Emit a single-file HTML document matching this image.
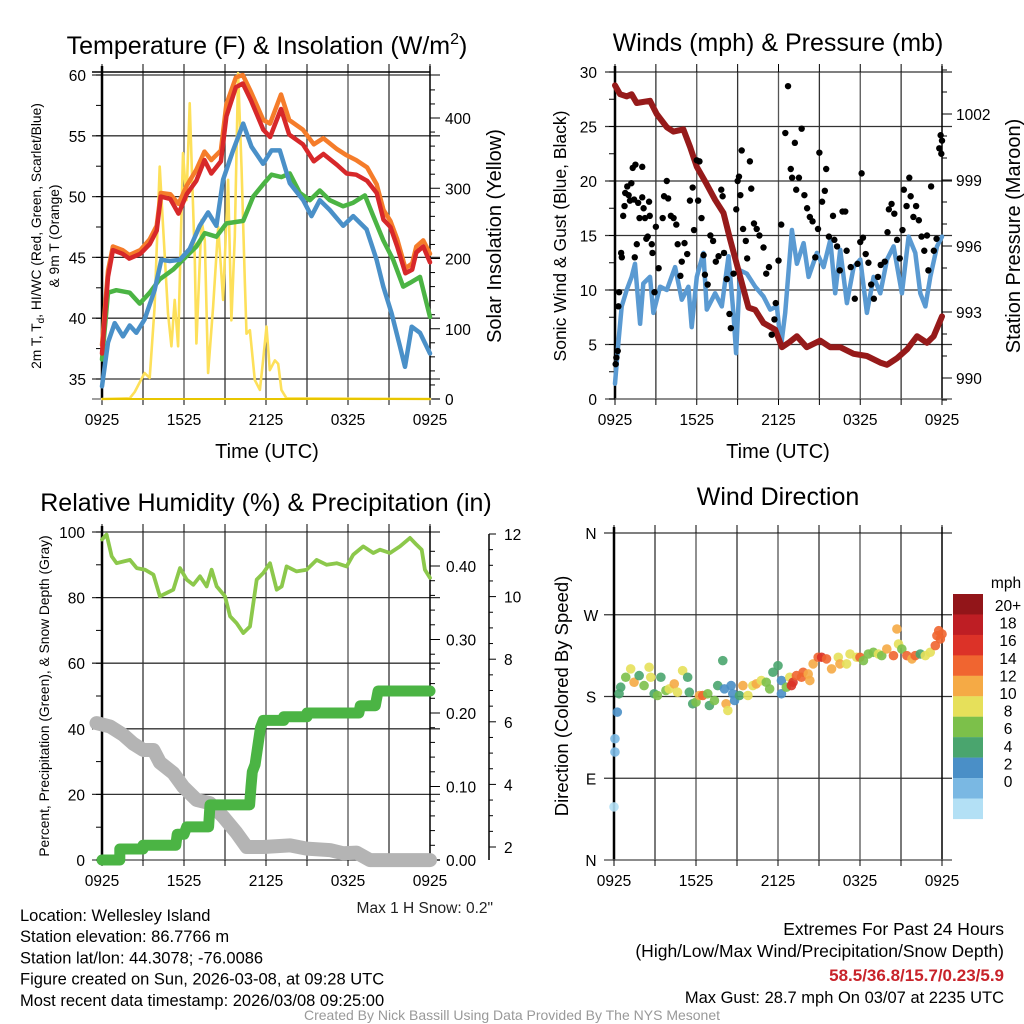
<!DOCTYPE html>
<html><head><meta charset="utf-8"><style>
body{margin:0;background:#fff;}
svg{display:block;font-family:"Liberation Sans",sans-serif;}
</style></head><body>
<svg id="chart" width="1024" height="1024" viewBox="0 0 1024 1024" xmlns="http://www.w3.org/2000/svg">
<rect width="1024" height="1024" fill="#fff"/>
<g id="g"></g>
</svg>
<script>
// ===== Panel 1 data: temperature & insolation =====
const redH=[0,0.44,0.8,1.5,2.0,2.8,3.5,4.0,4.3,5.0,5.6,6.2,6.9,7.5,8.0,8.7,9.1,9.8,10.3,10.9,11.8,12.3,13.1,13.7,14.7,15.5,16.2,17.2,17.9,18.6,19.4,20.1,20.6,21.1,21.6,22.2,22.7,23.0,23.5,24.0];
const redT=[37.1,43.4,45.6,45.3,44.9,45.3,46.1,47.2,50.0,49.8,48.6,50.2,51.3,53.0,51.9,52.9,56.6,59.0,59.3,57.9,55.5,54.9,57.2,55.1,54.3,52.9,53.5,52.6,51.9,51.8,51.3,50.3,48.1,47.5,45.9,43.7,44.0,45.4,45.9,44.6];
const orangeT=[37.8,43.9,45.9,45.6,45.2,45.6,46.5,47.6,50.3,50.2,49.4,50.9,52.2,53.7,53.0,53.8,57.6,59.8,60.0,58.6,56.3,56.0,58.4,56.3,55.5,54.3,54.8,53.9,53.4,53.0,52.4,51.0,48.9,48.0,46.5,44.1,44.5,45.9,46.4,45.3];
const blueH=[0,0.44,0.93,1.54,2.03,2.51,3.12,3.85,4.34,4.96,5.69,6.42,7.15,7.76,8.37,8.86,9.59,10.33,10.94,11.79,12.40,13.01,13.74,14.72,15.33,15.94,16.67,17.65,18.38,19.36,20.09,20.58,21.19,21.80,22.17,22.66,23.27,24.0];
const blueT=[34.4,38.0,39.6,38.5,39.4,38.8,39.9,42.3,44.8,44.7,44.8,45.7,47.6,48.7,47.6,51.4,53.8,56.0,54.1,52.7,53.8,53.8,51.1,49.7,48.4,49.7,48.9,47.6,48.4,47.3,44.8,42.6,40.4,37.7,36.0,39.3,38.8,37.1];
const greenH=[0,0.44,1.05,2.03,2.76,3.49,4.22,5.2,6.18,6.91,7.52,8.37,9.1,10.33,11.06,11.79,12.40,13.13,13.74,14.48,15.21,15.94,16.67,17.65,18.38,19.24,19.85,20.58,21.31,22.04,22.53,23.27,24.0];
const greenT=[36.6,42.1,42.3,42.1,41.2,42.1,43.2,44.0,45.1,45.9,47.0,46.7,47.8,48.0,50.0,51.0,51.8,51.6,51.9,50.3,49.7,50.5,49.7,49.2,49.5,50.1,48.4,46.4,44.8,42.6,42.9,43.4,40.1];
const solarH=[0,2.03,2.39,3.12,3.49,3.85,4.22,4.47,4.83,5.08,5.32,5.57,5.93,6.18,6.42,6.79,6.91,7.28,7.52,7.76,8.13,8.50,8.86,9.23,9.47,9.72,9.96,10.21,10.45,10.57,10.82,11.18,11.55,11.79,12.04,12.28,12.65,12.89,13.13,13.50,24.0];
const solarW=[0,1,10,37,30,131,331,245,122,75,141,75,350,283,421,198,79,255,226,37,131,245,141,312,112,231,464,331,169,93,98,27,13,55,103,41,55,50,13,1,0];

// ===== Panel 2 data: winds & pressure =====
const windH=[0,0.24,0.49,0.86,1.22,1.47,1.84,2.08,2.57,2.82,3.31,3.80,4.41,4.90,5.39,5.63,6.00,6.49,6.74,7.35,7.84,8.33,8.69,8.89,9.18,9.67,10.29,10.90,11.39,11.88,12.18,12.49,12.98,13.35,13.84,14.21,14.82,15.31,15.80,16.16,16.53,17.02,17.51,18.00,18.49,18.98,19.47,19.96,20.45,21.06,21.55,22.04,22.41,22.78,23.14,23.63,24.0];
const windS=[1.4,5.1,8.5,10.0,11.2,12.4,6.9,10.6,11.2,7.9,10.3,10.0,12.1,9.1,10.3,6.6,11.2,13.4,8.2,9.7,8.5,13.1,7.9,4.2,11.8,11.5,10.3,9.4,8.2,8.5,4.8,7.9,15.5,12.4,14.3,11.2,13.4,12.1,14.6,9.7,13.7,8.8,12.1,12.8,7.9,11.2,9.7,12.8,14.0,9.7,14.9,13.4,9.7,8.5,11.2,14.0,14.9];
const presH=[0,0.37,0.86,1.22,1.59,2.57,3.06,3.80,4.29,5.02,5.51,6.00,6.74,7.35,7.96,8.45,9.06,9.80,10.29,10.90,11.76,12.25,12.74,13.35,14.08,15.06,15.80,16.53,17.51,18.49,19.47,19.96,20.70,21.43,22.17,22.90,23.39,24.0];
const presP=[1003.3,1002.9,1002.8,1002.9,1002.5,1002.6,1002.0,1001.4,1001.2,1001.3,1000.5,999.6,998.8,998.1,997.5,996.3,994.9,993.2,993.1,992.5,992.2,991.4,991.6,991.9,991.4,991.7,991.4,991.4,991.1,991.0,990.7,990.6,990.9,991.3,991.9,991.6,991.9,992.8];
const gustH=[0.05,0.1,0.2,0.25,0.3,0.45,0.5,0.6,0.7,0.75,0.9,1.0,1.1,1.2,1.4,1.3,1.5,1.45,1.6,1.7,1.8,2.0,2.0,2.1,2.2,2.3,2.4,2.5,2.55,2.7,2.75,2.9,3.0,3.2,3.5,3.6,3.8,3.9,4.1,4.3,4.5,4.6,4.8,4.9,5.1,5.3,5.5,5.7,5.8,6.0,6.2,6.1,6.35,6.5,6.6,6.8,7.0,7.2,7.4,7.6,7.8,7.9,8.0,8.2,8.4,8.5,8.7,8.9,9.0,9.1,9.2,9.3,9.4,9.6,9.7,9.9,10.0,10.2,10.4,10.6,10.9,11.1,11.3,11.5,11.7,11.8,12.0,12.2,12.5,12.7,12.9,13.0,13.2,13.3,13.5,13.7,13.9,14.1,14.3,14.5,14.7,14.9,15.0,15.2,15.4,15.5,15.7,16.0,16.1,16.3,16.5,16.7,16.9,17.0,17.3,17.6,17.8,18.0,18.1,18.2,18.4,18.6,18.8,19.0,19.3,19.5,19.8,20.0,20.1,20.3,20.5,20.7,20.9,21.1,21.2,21.4,21.6,21.7,21.9,22.1,22.3,22.5,22.7,22.9,23.0,23.2,23.4,23.6,23.8,23.9,24.0,23.95];
const gustS=[3.2,3.8,4.4,8.5,9.8,13.4,13.0,16.8,17.7,18.9,19.5,18.7,18.2,19.8,18.3,21.2,21.5,13.0,14.2,18.0,16.6,21.3,18.5,17.5,16.6,14.7,14.9,18.1,16.8,14.2,13.4,9.8,15.8,12.0,16.6,18.6,20.0,18.4,16.8,16.6,16.0,14.2,11.3,12.6,14.3,13.3,18.2,19.4,15.5,21.9,21.8,18.2,16.6,13.2,11.4,10.5,15.0,14.5,12.6,13.1,19.2,18.6,13.4,11.0,7.8,6.5,11.5,17.4,20.0,20.4,18.7,22.8,15.6,14.5,12.9,21.8,19.3,16.1,15.6,15.0,13.9,11.5,12.1,5.9,7.3,8.8,12.7,16.0,24.4,28.7,21.1,20.3,23.5,19.2,20.3,24.8,18.7,17.5,16.7,16.3,13.0,15.6,22.6,18.1,19.1,21.1,14.9,16.8,14.6,14.0,11.8,17.2,17.2,13.6,12.1,9.2,12.4,14.4,20.7,14.8,13.3,12.5,10.5,9.2,11.2,12.3,12.6,15.3,17.4,17.9,17.0,14.6,12.9,15.5,19.2,17.7,20.3,18.6,16.7,17.7,16.4,14.9,13.6,15.0,11.8,19.5,13.6,14.7,23.0,24.2,23.7,22.5];

// ===== Panel 3 data: RH, precipitation, snow depth =====
const rhH=[0,0.34,0.71,1.07,1.56,2.05,2.54,3.15,3.76,4.24,4.73,5.22,5.71,6.20,6.68,7.17,7.66,8.02,8.39,9.00,9.37,9.85,10.34,10.83,11.32,11.80,12.29,12.78,13.15,13.51,14.24,14.98,15.71,16.44,17.17,17.90,18.39,19.12,19.85,20.34,21.07,21.80,22.54,23.02,23.39,23.63,24.0];
const rhV=[97.7,99.2,92.6,90.5,91.0,91.5,89.0,88.5,87.0,80.4,81.4,82.4,89.0,85.5,83.9,86.5,83.4,88.5,83.4,80.4,74.3,72.2,69.2,71.2,85.5,87.5,90.5,82.4,83.4,89.5,88.0,88.5,91.5,90.0,90.5,89.5,93.1,95.6,93.6,94.6,93.6,95.6,98.2,96.1,94.6,88.5,86.0];
const precipH=[0,1.3,1.3,3.0,3.0,5.4,5.5,6.0,6.2,7.8,7.9,10.8,10.9,11.0,11.2,11.4,11.6,11.8,13.3,13.3,15.0,15.0,18.8,18.9,20.0,20.2,24.0];
const precipV=[0,0,0.015,0.015,0.02,0.02,0.035,0.035,0.045,0.045,0.075,0.075,0.10,0.12,0.13,0.155,0.18,0.19,0.19,0.195,0.195,0.20,0.20,0.21,0.21,0.23,0.23];
const snowH=[-0.4,0.59,1.56,2.29,3.02,3.76,4.24,5.22,5.95,6.93,7.90,8.88,9.85,10.59,11.80,13.76,14.98,16.68,17.66,18.63,19.61,24.0];
const snowV=[5.96,5.85,5.58,5.3,5.1,5.1,4.7,4.36,3.92,3.5,3.4,2.96,2.45,2.0,2.0,2.05,1.95,1.9,1.8,1.82,1.58,1.58];

// ===== Panel 4 data: wind direction colored by speed =====
const dirH=[0,0.07,0.07,0.24,0.37,0.49,0.86,1.22,1.47,1.84,2.2,2.57,2.69,2.94,3.18,3.43,3.8,4.04,4.41,4.65,5.02,5.39,5.51,5.76,6.0,6.25,6.49,6.86,6.98,7.35,7.59,7.96,8.08,8.2,8.33,8.57,8.69,8.82,9.18,9.43,9.8,10.16,10.41,10.78,11.14,11.39,11.63,12.0,12.25,12.25,12.61,12.86,13.1,12.98,13.35,13.72,13.84,14.21,14.33,14.57,14.94,15.19,15.55,15.92,16.41,16.53,17.02,17.27,17.76,18.0,18.25,18.61,18.98,19.35,19.59,19.96,20.45,20.7,20.82,21.06,21.43,21.8,22.04,22.41,22.78,23.14,23.51,23.63,23.76,24.0,23.88];
const dirD=[58.5,118.9,133.5,162.8,183,190.2,201.2,210.4,195.7,203,192,212.2,201.2,183,181.1,201.2,186.6,188.4,193.9,184.7,208.5,201.2,184.7,172,173.8,181.1,181.1,183,170.1,175.6,192,219.5,188.4,172,164.6,192,183,175.6,181.1,192,181.1,192,193.9,197.6,195.7,188.4,206.7,214,197.6,183,190.2,201.2,195.7,192,203,201.2,206.7,204.8,197.6,215.9,223.2,223.2,221.4,210.4,223.2,215.9,215.9,226.8,223.2,223.2,219.5,226.8,228.7,226.8,225,232.3,225,254.3,237.8,232.3,225,221.4,225,226.8,225,228.7,236,247,252.4,248.8,243.3];
const dirS=[1,2,2,4,6,7,9,10,12,7,9,10,10,7,8,7,9,10,12,10,10,7,6,6,9,12,14,9,7,8,7,6,5,12,10,5,4,4,7,12,10,11,12,10,8,8,7,6,4,4,8,10,16,17,15,14,14,12,12,12,14,16,15,12,10,12,10,10,10,15,8,8,9,10,9,12,14,12,10,9,14,12,15,7,10,10,14,14,15,14,15];
const cbLabels=["20+","18","16","14","12","10","8","6","4","2","0"];

// ===== drawing =====
const NS="http://www.w3.org/2000/svg";
const G=document.getElementById('g');
const TK=15.5, TT=25, AX=20;
function mk(tag,attrs,parent,txt){const e=document.createElementNS(NS,tag);for(const k in attrs)e.setAttribute(k,attrs[k]);if(txt!==undefined)e.textContent=txt;(parent||G).appendChild(e);return e;}
function grp(name){const e=mk('g',{});


return e;}
function text(p,x,y,s,size,anchor,name,extra){const t=mk('text',Object.assign({x:x,y:y,'font-size':size,'text-anchor':anchor||'start',fill:'#000'},extra||{}),p,s);


return t;}
function line(p,x1,y1,x2,y2,c,w){return mk('line',{x1:x1,y1:y1,x2:x2,y2:y2,stroke:c||'#000','stroke-width':w||1},p);}
function poly(p,xs,ys,c,w,name){const d=xs.map((x,i)=>(i?'L':'M')+x.toFixed(1)+','+ys[i].toFixed(1)).join('');const e=mk('path',{d:d,fill:'none',stroke:c,'stroke-width':w,'stroke-linejoin':'round','stroke-linecap':'round'},p);


return e;}
function lin(d0,d1,r0,r1){return v=>r0+(v-d0)/(d1-d0)*(r1-r0);}
const xLabs=["0925","1525","2125","0325","0925"];
function frame(p,L,R,T,B,hTicksY,xs){
  for(let k=1;k<8;k++){const x=L+(R-L)*k/8;line(p,x,T,x,B,k%2?'#333':'#555',1.3);}
  hTicksY.forEach(y=>line(p,L-10,y,R+10,y,'#333',1.3));
  line(p,L,T-6,L,B,'#000',2.5);line(p,R,T-6,R,B,'#000',1.5);
  line(p,L-10,B,R+10,B,'#666',1.3);
  for(let k=0;k<=8;k++){const x=L+(R-L)*k/8;line(p,x,B,x,B+6,'#000',1);line(p,x,T-8,x,T,'#000',1);}
  xLabs.forEach((s,i)=>{text(p,L+(R-L)*i/4,xs+1,s,TK,'middle','x-tick-label');});
}
// ---- Panel 1
{const p=grp('temperature-panel');
 const L=102,R=430,T=72,B=399;
 const y=lin(35,60,379,75), yw=lin(0,400,399,118), x=lin(0,24,L,R);
 frame(p,L,R,T,B,[35,40,45,50,55,60].map(y),424);
 line(p,L-10,72,R,72,'#000',1.5);
 [35,40,45,50,55,60].forEach(v=>text(p,86,y(v)+6,String(v),TK,'end','left-tick-label'));
 for(let v=35;v<=60;v+=2.5)line(p,L-6,y(v),L,y(v),'#000',1);
 for(let v=0;v<=440;v+=20){line(p,R,yw(v),R+(v%100?5:10),yw(v),'#000',1);}
 [0,100,200,300,400].forEach(v=>text(p,445,yw(v)+6,String(v),TK,'start','right-tick-label'));
 poly(p,solarH.map(x),solarW.map(yw),'#fde05a',2.6,'solar-insolation-line');
 poly(p,greenH.map(x),greenT.map(y),'#4bb444',4.5,'heat-index-line');
 poly(p,redH.map(x),orangeT.map(y),'#f57c2a',4.5,'9m-temperature-line');
 poly(p,redH.map(x),redT.map(y),'#d7282a',4.5,'2m-temperature-line');
 poly(p,blueH.map(x),blueT.map(y),'#4a90c8',4.5,'windchill-line');
 line(p,L,B,R,B,'#e8c600',2);
 text(p,267,54,'Temperature (F) & Insolation (W/m',TT,'middle','panel-title').innerHTML='Temperature (F) &amp; Insolation (W/m<tspan font-size="16" dy="-10">2</tspan><tspan dy="10">)</tspan>';
 text(p,267,458,'Time (UTC)',AX,'middle','x-axis-title');
 text(p,0,0,'2m T, T',13.8,'middle','left-axis-title',{transform:'translate(41,236) rotate(-90)'}).innerHTML='2m T, T<tspan font-size="10" dy="3">d</tspan><tspan dy="-3">, HI/WC (Red, Green, Scarlet/Blue)</tspan>';
 text(p,0,0,'& 9m T (Orange)',13.8,'middle','left-axis-title-line2',{transform:'translate(59,236) rotate(-90)'});
 text(p,0,0,'Solar Insolation (Yellow)',AX,'middle','right-axis-title',{transform:'translate(501,236) rotate(-90)'});
}
// ---- Panel 2
{const p=grp('winds-panel');
 const L=615,R=942,T=72,B=399;
 const y=lin(0,30,399,72), yp=lin(990,1002,378,114), x=lin(0,24,L,R);
 frame(p,L,R,T,B,[0,5,10,15,20,25,30].map(y),424);
 [0,5,10,15,20,25,30].forEach(v=>text(p,597,y(v)+6,String(v),TK,'end','left-tick-label'));
 for(let v=0;v<=30;v+=2.5)line(p,L-6,y(v),L,y(v),'#000',1);
 for(let v=989;v<=1004;v+=1)line(p,R,yp(v),R+(v%3===0?10:5),yp(v),'#000',1);
 [990,993,996,999,1002].forEach(v=>text(p,956,yp(v)+6,String(v),TK,'start','right-tick-label'));
 poly(p,windH.map(x),windS.map(y),'#5a9ad2',4.5,'sonic-wind-line');
 poly(p,presH.map(x),presP.map(yp),'#961a1a',6,'pressure-line');
 gustH.forEach((h,i)=>{const c=mk('circle',{cx:x(h),cy:y(gustS[i]),r:3.2,fill:'#000'},p);
 
 });
 text(p,778,51,'Winds (mph) & Pressure (mb)',TT,'middle','panel-title');
 text(p,778,458,'Time (UTC)',AX,'middle','x-axis-title');
 text(p,0,0,'Sonic Wind & Gust (Blue, Black)',17.5,'middle','left-axis-title',{transform:'translate(566,236) rotate(-90)'});
 text(p,0,0,'Station Pressure (Maroon)',AX,'middle','right-axis-title',{transform:'translate(1020,236) rotate(-90)'});
}
// ---- Panel 3
{const p=grp('humidity-panel');
 const L=102,R=430,T=532,B=860;
 const y=lin(0,100,860,532), yp=lin(0,0.4,860,566), ys=lin(2,12,847,534), x=lin(0,24,L,R);
 frame(p,L,R,T,B,[0,20,40,60,80,100].map(y),885);
 [0,20,40,60,80,100].forEach(v=>text(p,85,y(v)+6,String(v),TK,'end','left-tick-label'));
 for(let v=0;v<=100;v+=10)line(p,L-6,y(v),L,y(v),'#000',1);
 for(let v=0;v<=0.44;v+=0.02){const mj=Math.round(v*100)%10===0;line(p,R,yp(v),R+(mj?10:5),yp(v),'#000',1);}
 [0,0.1,0.2,0.3,0.4].forEach(v=>text(p,446,yp(v)+6,v.toFixed(2),TK,'start','precip-tick-label'));
 line(p,489,534,489,860,'#000',1.5);
 for(let v=2;v<=12;v+=0.5)line(p,489,ys(v),489+(v%2===0?7:4),ys(v),'#000',1);
 [2,4,6,8,10,12].forEach(v=>text(p,504,ys(v)+6,String(v),TK,'start','snow-tick-label'));
 poly(p,snowH.map(x),snowV.map(ys),'#b4b4b4',14,'snow-depth-line');
 poly(p,precipH.map(x),precipV.map(yp),'#4bb444',11,'precipitation-line');
 poly(p,rhH.map(x),rhV.map(y),'#8cc84b',3.8,'relative-humidity-line');
 text(p,266,511,'Relative Humidity (%) & Precipitation (in)',TT,'middle','panel-title');
 text(p,0,0,'Percent, Precipitation (Green), & Snow Depth (Gray)',13.8,'middle','left-axis-title',{transform:'translate(49,696) rotate(-90)'});
 text(p,493,913,'Max 1 H Snow: 0.2"',TK,'end','max-snow-note',{fill:'#222'});
}
// ---- Panel 4
{const p=grp('wind-direction-panel');
 const L=614,R=942,T=533,B=860;
 const y=lin(0,360,860,533), x=lin(0,24,L,R);
 frame(p,L,R,T,B,[0,90,180,270,360].map(y),885);
 [["N",0],["E",90],["S",180],["W",270],["N",360]].forEach(a=>text(p,591,y(a[1])+6,a[0],TK,'middle','direction-tick-label'));
 const cols=['#b3e0f5','#7ab8e3','#4a8fc7','#4aa56e','#7cc04a','#e6e05a','#f5aa45','#f06530','#dc3228','#be1e24','#921519'];
 dirH.forEach((h,i)=>{const k=Math.min(10,Math.floor(dirS[i]/2));const c=mk('circle',{cx:x(h),cy:y(dirD[i]),r:4.8,fill:cols[k],'fill-opacity':0.9},p);
 
 });
 text(p,778,505,'Wind Direction',TT,'middle','panel-title');
 text(p,0,0,'Direction (Colored By Speed)',18.5,'middle','left-axis-title',{transform:'translate(568,696) rotate(-90)'});
 const cb=grp('speed-colorbar');
 for(let k=0;k<11;k++){const r=mk('rect',{x:953,y:594+k*20.45,width:30,height:20.6,fill:cols[10-k]},cb);
 
 }
 cbLabels.forEach((s,k)=>{text(cb,1008,611+k*17.6,s,TK,'middle','colorbar-label');});
 text(cb,1006,588,'mph',TK,'middle','colorbar-title');
}
// ---- Footer text
{const p=grp('footer');
 ['Location: Wellesley Island','Station elevation: 86.7766 m','Station lat/lon: 44.3078; -76.0086','Figure created on Sun, 2026-03-08, at 09:28 UTC','Most recent data timestamp: 2026/03/08 09:25:00'].forEach((s,i)=>text(p,20,921+i*21.2,s,16.5,'start','station-info-line'));
 text(p,1004,935,'Extremes For Past 24 Hours',17.5,'end','extremes-title');
 text(p,1004,957,'(High/Low/Max Wind/Precipitation/Snow Depth)',17.5,'end','extremes-subtitle');
 text(p,1004,981,'58.5/36.8/15.7/0.23/5.9',17,'end','extremes-values',{fill:'#c8232a','font-weight':'bold'});
 text(p,1004,1003,'Max Gust: 28.7 mph On 03/07 at 2235 UTC',16.5,'end','max-gust');
 text(p,512,1020,'Created By Nick Bassill Using Data Provided By The NYS Mesonet',14,'middle','credit',{fill:'#999'});
}
</script>
</body></html>
